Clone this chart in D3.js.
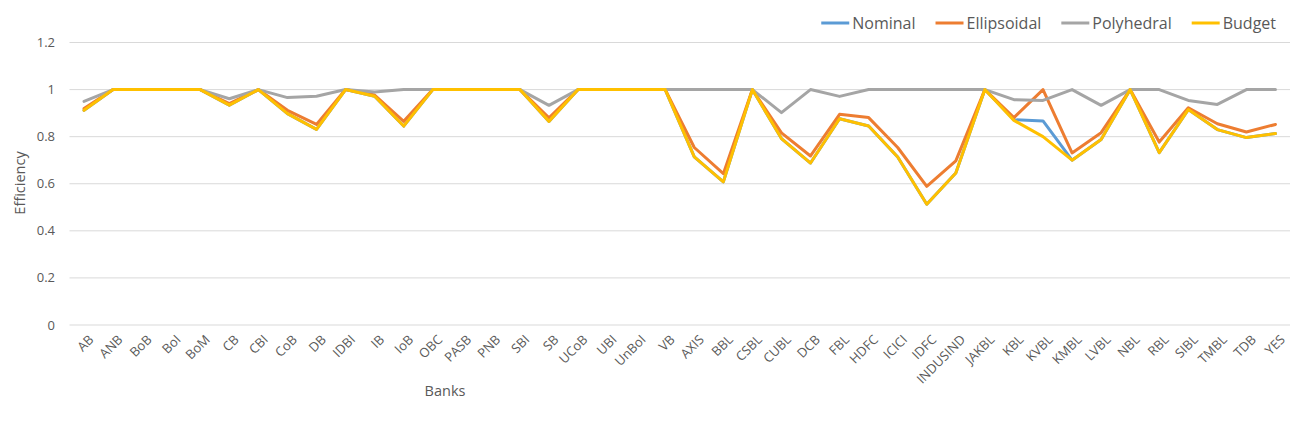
<!DOCTYPE html>
<html>
<head>
<meta charset="utf-8">
<script src="https://cdn.jsdelivr.net/npm/d3@7.9.0/dist/d3.min.js"></script>
<style>
  body { margin: 0; background: #fff; }
  svg { display: block; font-family: "Open Sans", "Noto Sans", sans-serif; }
</style>
</head>
<body>
<svg id="chart" width="1316" height="423"></svg>
<script>
const banks = ["AB", "ANB", "BoB", "BoI", "BoM", "CB", "CBI", "CoB", "DB", "IDBI", "IB", "IoB", "OBC", "PASB", "PNB", "SBI", "SB", "UCoB", "UBI", "UnBoI", "VB", "AXIS", "BBL", "CSBL", "CUBL", "DCB", "FBL", "HDFC", "ICICI", "IDFC", "INDUSIND", "JAKBL", "KBL", "KVBL", "KMBL", "LVBL", "NBL", "RBL", "SIBL", "TMBL", "TDB", "YES"];

const nominal = [0.912, 1, 1, 1, 1, 0.934, 1, 0.898, 0.831, 1, 0.972, 0.845, 1, 1, 1, 1, 0.865, 1, 1, 1, 1, 0.714, 0.608, 1, 0.792, 0.688, 0.876, 0.845, 0.714, 0.513, 0.646, 1, 0.872, 0.867, 0.70, 0.788, 1, 0.732, 0.915, 0.83, 0.796, 0.813];
const ellipsoidal = [0.92, 1, 1, 1, 1, 0.94, 1, 0.912, 0.852, 1, 0.977, 0.865, 1, 1, 1, 1, 0.88, 1, 1, 1, 1, 0.754, 0.643, 1, 0.816, 0.718, 0.895, 0.881, 0.754, 0.589, 0.697, 1, 0.881, 1, 0.731, 0.817, 1, 0.777, 0.923, 0.855, 0.82, 0.852];
const polyhedral = [0.95, 1, 1, 1, 1, 0.961, 1, 0.966, 0.972, 1, 0.99, 1, 1, 1, 1, 1, 0.933, 1, 1, 1, 1, 1, 1, 1, 0.902, 1, 0.971, 1, 1, 1, 1, 1, 0.957, 0.954, 1, 0.933, 1, 1, 0.954, 0.937, 1, 1];
const budget = [0.912, 1, 1, 1, 1, 0.934, 1, 0.898, 0.831, 1, 0.972, 0.845, 1, 1, 1, 1, 0.865, 1, 1, 1, 1, 0.714, 0.608, 1, 0.792, 0.688, 0.876, 0.845, 0.714, 0.513, 0.646, 1, 0.869, 0.80, 0.70, 0.788, 1, 0.732, 0.915, 0.83, 0.796, 0.813];

const yTicks = [0, 0.2, 0.4, 0.6, 0.8, 1, 1.2];

const series = [
  { name: "Nominal", values: nominal, color: "#5b9bd5" },
  { name: "Ellipsoidal", values: ellipsoidal, color: "#ed7d31" },
  { name: "Polyhedral", values: polyhedral, color: "#a5a5a5" },
  { name: "Budget", values: budget, color: "#ffc000" }
];

const svg = d3.select("#chart");
const plotLeft = 69.5, plotRight = 1290, plotTop = 42.5, plotBottom = 325;

const x = d3.scaleBand().domain(banks).range([plotLeft, plotRight]);
const y = d3.scaleLinear().domain([0, 1.2]).range([plotBottom, plotTop]);
const cx = (b) => x(b) + x.bandwidth() / 2;

// gridlines
svg.append("g")
  .selectAll("line")
  .data(yTicks)
  .join("line")
  .attr("x1", plotLeft).attr("x2", plotRight)
  .attr("y1", (d) => y(d)).attr("y2", (d) => y(d))
  .attr("stroke", "#d9d9d9")
  .attr("stroke-width", 1);

// y labels
svg.append("g")
  .selectAll("text")
  .data(yTicks)
  .join("text")
  .attr("x", 55)
  .attr("y", (d) => y(d))
  .attr("dy", "0.35em")
  .attr("text-anchor", "end")
  .attr("font-size", 13)
  .attr("fill", "#595959")
  .text((d) => String(+d.toFixed(1)));

// x labels
svg.append("g")
  .selectAll("text")
  .data(banks)
  .join("text")
  .attr("transform", (d) => `translate(${cx(d) + 4},${plotBottom + 9}) rotate(-45)`)
  .attr("text-anchor", "end")
  .attr("dy", "0.7em")
  .attr("font-size", 13)
  .attr("fill", "#595959")
  .text((d) => d);

// axis titles
svg.append("text")
  .attr("x", 445).attr("y", 396)
  .attr("text-anchor", "middle")
  .attr("font-size", 14.5)
  .attr("fill", "#595959")
  .text("Banks");

svg.append("text")
  .attr("transform", "translate(25,183) rotate(-90)")
  .attr("text-anchor", "middle")
  .attr("font-size", 14.5)
  .attr("fill", "#595959")
  .text("Efficiency");

// lines
const line = d3.line()
  .x((d, i) => cx(banks[i]))
  .y((d) => y(d));

svg.append("g")
  .selectAll("path")
  .data(series)
  .join("path")
  .attr("d", (s) => line(s.values))
  .attr("fill", "none")
  .attr("stroke", (s) => s.color)
  .attr("stroke-width", 3)
  .attr("stroke-linejoin", "round")
  .attr("stroke-linecap", "round");

// legend
const legend = svg.append("g");
const items = legend.selectAll("g").data(series).join("g");
items.append("line")
  .attr("x1", 0).attr("x2", 28)
  .attr("y1", 0).attr("y2", 0)
  .attr("stroke", (s) => s.color)
  .attr("stroke-width", 3);
items.append("text")
  .attr("x", 31)
  .attr("dy", "0.35em")
  .attr("font-size", 16)
  .attr("fill", "#595959")
  .text((s) => s.name);

let widths = [];
items.each(function () {
  widths.push(31 + d3.select(this).select("text").node().getComputedTextLength());
});
const gap = 20;
const total = d3.sum(widths) + gap * (widths.length - 1);
let pos = 1276 - total;
items.attr("transform", (d, i) => {
  const t = `translate(${pos},23)`;
  pos += widths[i] + gap;
  return t;
});
</script>
</body>
</html>
